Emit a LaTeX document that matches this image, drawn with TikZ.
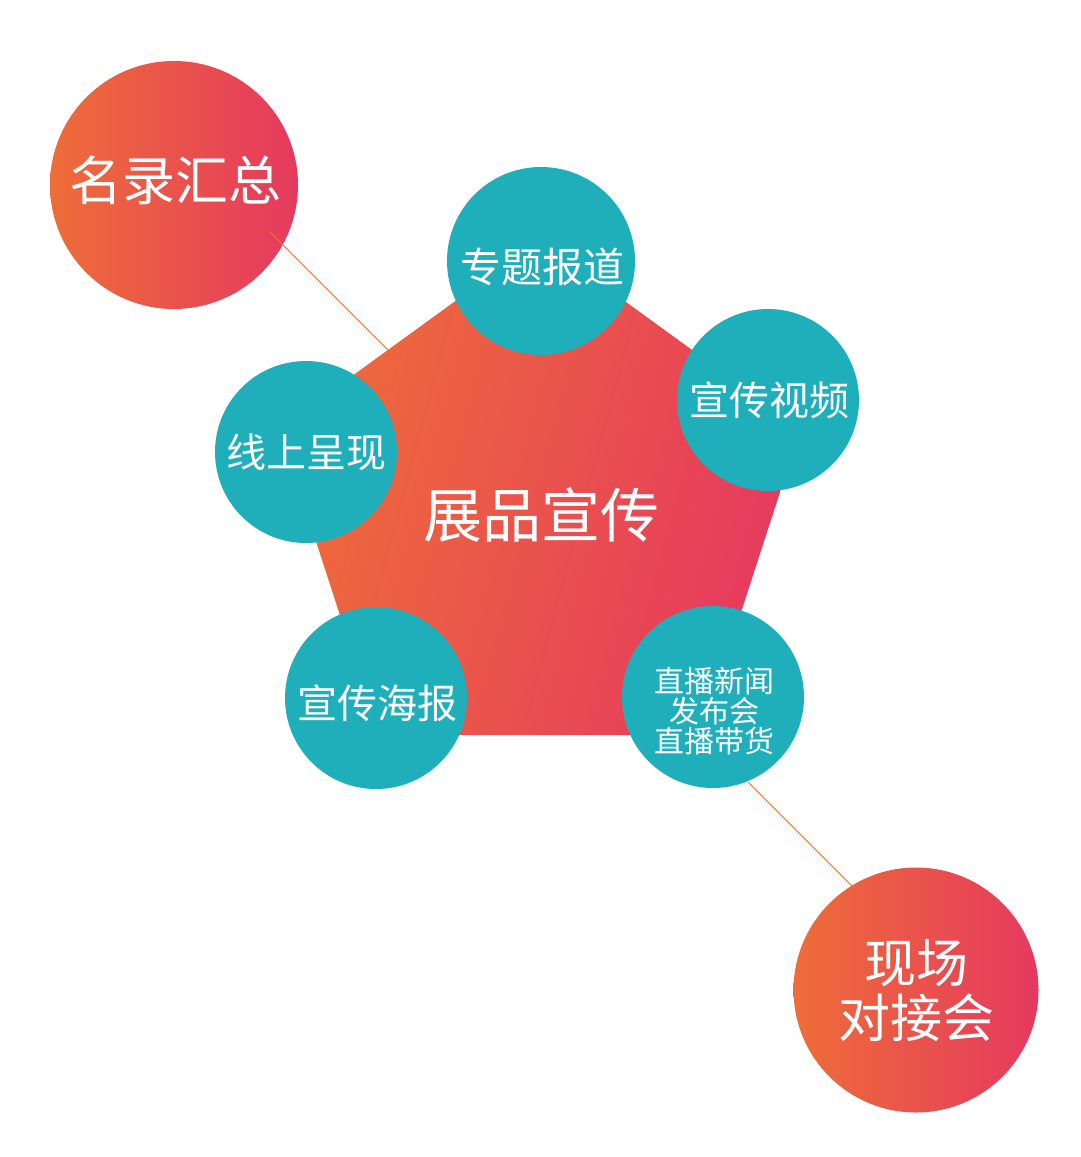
\documentclass[tikz,border=0pt]{standalone}
\usepackage{fontspec}
\usepackage{tikz}
\usepackage{xcolor}
\usetikzlibrary{positioning, calc}
\newfontfamily\cjk{Noto Sans CJK SC}
\definecolor{PromoOrange}{HTML}{EE6D39}
\definecolor{PromoPink}{HTML}{E5395F}
\definecolor{PromoTeal}{HTML}{1EAFBA}
\definecolor{PromoLine}{HTML}{EC6A3C}
\definecolor{PromoWhite}{HTML}{FFFFFF}
\tikzset{
    % Node styles - flat circles, text set on top
    tealcircle/.style={
        circle,
        fill=PromoTeal,
        minimum size=182pt,
        inner sep=0pt
    },
    warmcircle/.style={
        circle,
        left color=PromoOrange,
        right color=PromoPink,
        minimum size=248pt,
        inner sep=0pt
    },
    % Text styles
    circletext/.style={
        text=PromoWhite,
        inner sep=0pt,
        align=center,
        font=\cjk\fontsize{40}{44}\selectfont
    },
    bigtext/.style={
        circletext,
        font=\cjk\fontsize{53}{55}\selectfont
    },
    % Line styles
    thinline/.style={
        draw=PromoLine,
        line width=0.8pt
    }
}

\begin{document}
\begin{tikzpicture}[x=1pt, y=-1pt]
    \useasboundingbox (0,0) rectangle (1080,1157);

    % outer circles
    \node[warmcircle] (names) at (174,185) {};
    \node[warmcircle, minimum size=245pt] (meet) at (916,990) {};
    \node[bigtext] (namestext) at (175,180) {名录汇总};
    \node[bigtext, font=\cjk\fontsize{52}{55}\selectfont] (meettext) at (916,991) {现场\\对接会};

    % thin connectors
    \coordinate (namesend) at (270,232);
    \coordinate (pentend) at (388,350);
    \coordinate (liveend) at (748,782);
    \coordinate (meetend) at (852,886);
    \draw[thinline] (namesend) -- (pentend);
    \draw[thinline] (liveend) -- (meetend);

    % pentagon
    \coordinate (cen) at (540,513.5);
    \shade[left color=PromoOrange, right color=PromoPink, shading angle=75]
        ($(cen)+(-90:274)$) -- ($(cen)+(-18:274)$) -- ($(cen)+(54:274)$)
        -- ($(cen)+(126:274)$) -- ($(cen)+(198:274)$) -- cycle;
    \node[circletext, font=\cjk\fontsize{59}{62}\selectfont] (main) at (541,515) {展品宣传};

    % teal circles
    \node[tealcircle, minimum size=188pt] (topic) at (541,261) {};
    \node[tealcircle] (video) at (768,400) {};
    \node[tealcircle] (online) at (306,452) {};
    \node[tealcircle] (poster) at (376,698) {};
    \node[tealcircle] (live) at (713,697) {};

    \node[circletext, font=\cjk\fontsize{41}{44}\selectfont] (topictext) at (542,267) {专题报道};
    \node[circletext] (videotext) at (769,400) {宣传视频};
    \node[circletext] (onlinetext) at (306,452) {线上呈现};
    \node[circletext] (postertext) at (377,703) {宣传海报};
    \node[circletext, font=\cjk\fontsize{30}{30}\selectfont] (livetext) at (714,711) {直播新闻\\发布会\\直播带货};
\end{tikzpicture}
\end{document}
